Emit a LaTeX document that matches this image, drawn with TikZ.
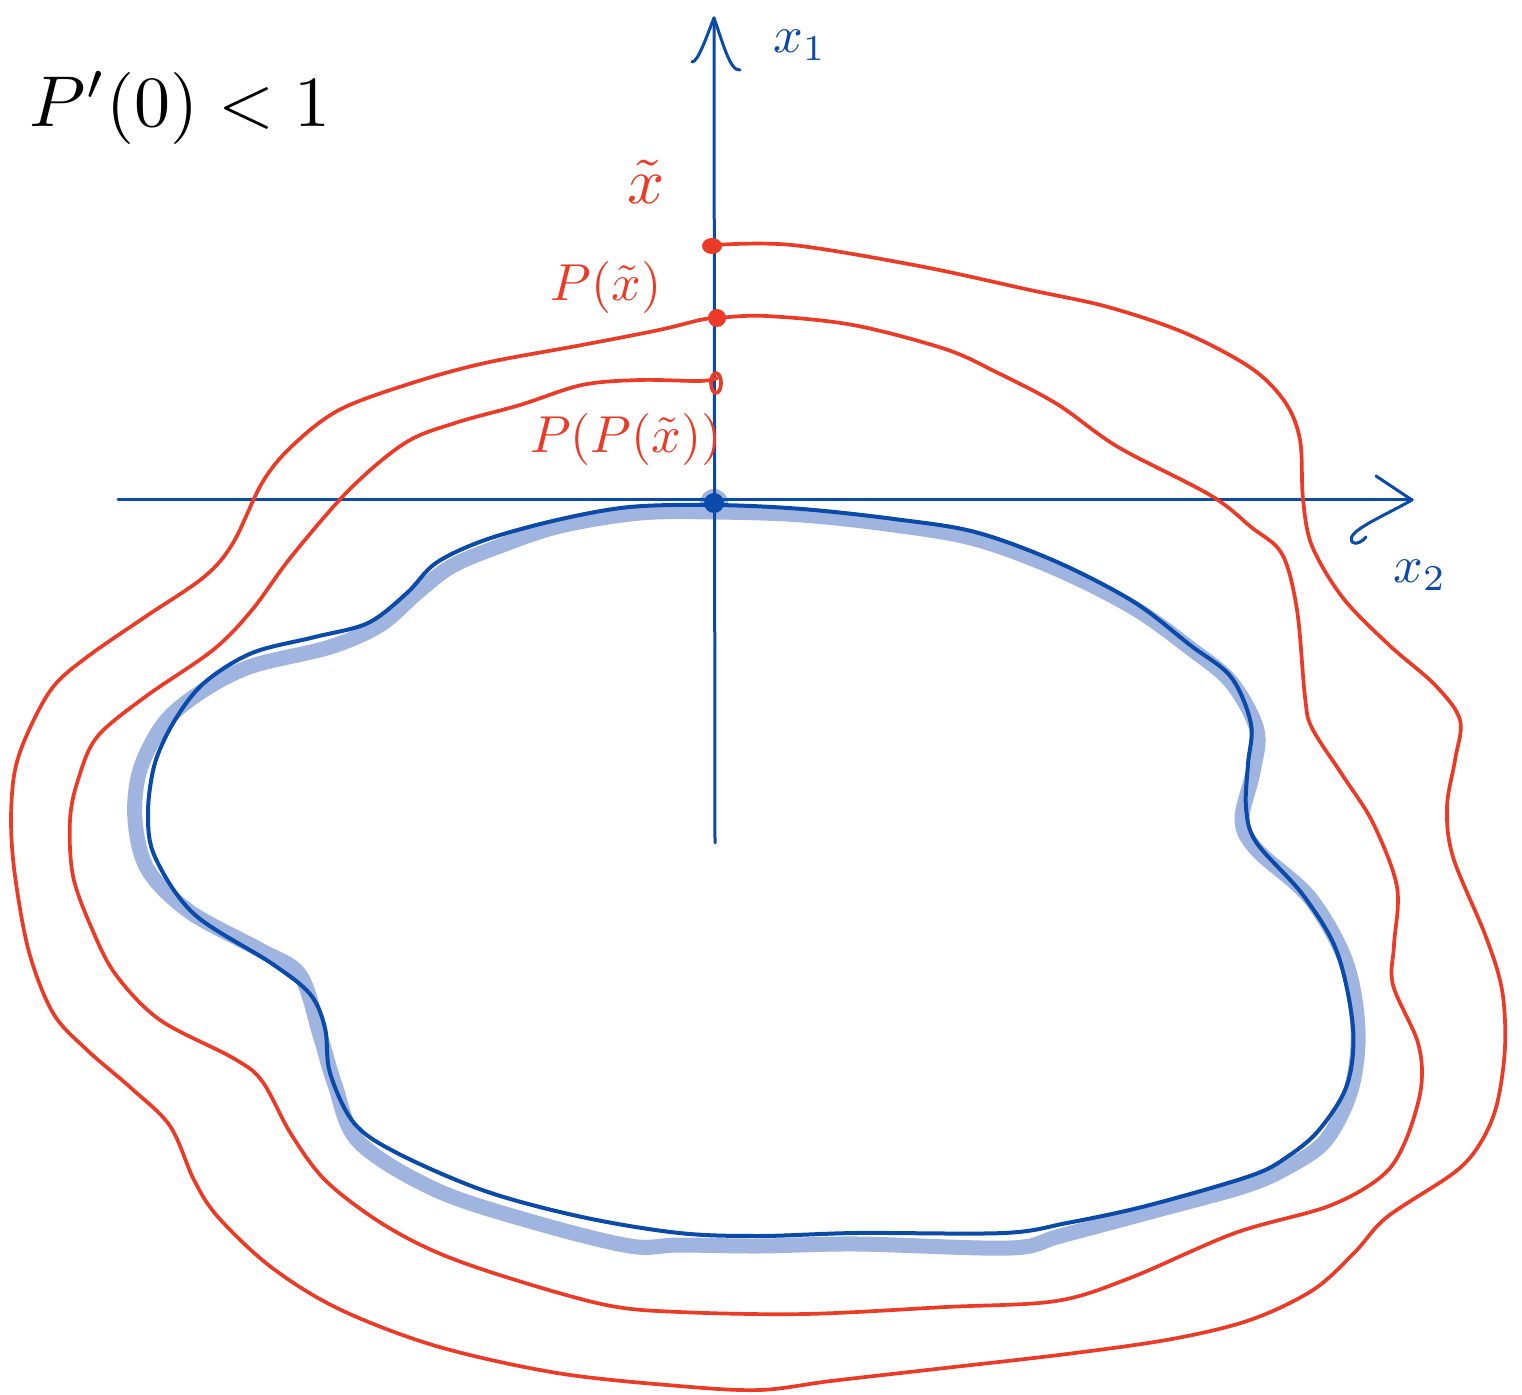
\documentclass[tikz,border=0pt]{standalone}
\definecolor{penred}{RGB}{235,58,38}
\definecolor{penblue}{RGB}{10,74,168}
\definecolor{halo}{RGB}{160,180,224}
\tikzset{
  redline/.style={draw=penred, line width=1.85pt, line cap=round, line join=round},
  blueline/.style={draw=penblue, line width=2pt, line cap=round, line join=round},
  axisline/.style={draw=penblue, line width=1.5pt, line cap=round, line join=round},
  haloline/.style={draw=halo, line width=7.5pt, line cap=round, line join=round},
  redlabel/.style={text=penred, scale=2.6, inner sep=0pt},
  bluelabel/.style={text=penblue, scale=2.6, inner sep=0pt}
}
\begin{document}
\begin{tikzpicture}[x=0.5pt,y=-0.5pt]
\useasboundingbox (0,0) rectangle (1522,1395);
\fill[white] (0,0) rectangle (1522,1395);

% coordinates
\coordinate (O) at (714,503);
\coordinate (xleft) at (118,500);
\coordinate (xright) at (1412,500);
\coordinate (ybot) at (715,843);
\coordinate (ytop) at (714,18);
\coordinate (xt) at (712,246);
\coordinate (px) at (717,318);
\coordinate (ppx) at (716,383);

% halo of invariant curve
\draw[haloline] plot[smooth cycle, tension=0.55] coordinates {
(715,512) (802,515) (894,525) (975,539) (1057,569) (1134,608) (1190,648) (1231,682)
(1257,730) (1253,772) (1242,820) (1257,850) (1310,898) (1346,962) (1358,1030)
(1351,1090) (1326,1140) (1290,1166) (1245,1186) (1150,1212) (1060,1236) (1010,1248)
(857,1244) (760,1246) (679,1245) (630,1246) (533,1222) (436,1190) (359,1142)
(335,1085) (320,1035) (300,975) (260,950) (190,912) (148,870) (135,820) (140,770)
(165,722) (204,690) (252,666) (330,647) (380,625) (418,592) (452,566) (500,546)
(560,526) (640,513)};
\fill[halo] (O) circle[radius=14];

% invariant curve
\draw[blueline] plot[smooth cycle, tension=0.55] coordinates {
(715,505) (802,509) (894,519) (975,532) (1057,562) (1134,602) (1190,645) (1231,677)
(1251,724) (1248,764) (1246,807) (1256,842) (1303,895) (1337,952) (1353,1028)
(1347,1085) (1319,1130) (1287,1157) (1250,1176) (1146,1206) (1067,1223) (1004,1233)
(857,1233) (760,1236) (679,1233) (582,1217) (485,1191) (397,1153) (354,1123)
(330,1073) (325,1028) (310,994) (271,963) (194,914) (155,857) (148,813) (155,763)
(175,720) (204,683) (252,653) (315,637) (368,623) (407,593) (436,563) (485,540)
(557,520) (630,507)};

% axes
\draw[axisline] (xleft) -- (xright);
\draw[axisline] (ybot) -- (ytop);
\draw[axisline] (xright) -- (1376,476);
\draw[axisline] (xright) .. controls (1380,518) and (1345,532) .. (1352,542) .. controls (1356,546) and (1364,540) .. (1366,537);
\draw[axisline] (ytop) .. controls (706,38) and (698,62) .. (692,62);
\draw[axisline] (ytop) .. controls (722,40) and (730,72) .. (740,70);

% origin dot
\fill[penblue] (O) circle[radius=10];

% spiral trajectory
\draw[redline] plot[smooth, tension=0.55] coordinates {
(715,245) (792,245) (919,266) (1030,290) (1108,307) (1185,333) (1251,368) (1285,402)
(1300,440) (1303,499) (1312,546) (1343,598) (1389,645) (1435,685) (1460,720)
(1455,760) (1447,807) (1453,857) (1486,937) (1502,990) (1505,1047) (1497,1104)
(1481,1142) (1455,1172) (1387,1217) (1355,1252) (1313,1290) (1250,1320) (1172,1339)
(1067,1354) (936,1369) (831,1381) (760,1390) (679,1386) (557,1373) (436,1346)
(339,1309) (271,1267) (218,1217) (194,1180) (170,1126) (131,1088) (87,1050)
(53,1013) (29,952) (15,876) (11,820) (15,770) (29,730) (53,687) (87,657) (145,617)
(204,577) (233,543) (262,483) (291,447) (339,410) (412,383) (485,363) (582,345)
(659,330) (700,320) (717,318)
(766,316) (853,325) (945,349) (996,372) (1057,404) (1118,447) (1210,495) (1251,527)
(1282,554) (1297,610) (1305,697) (1312,728) (1343,776) (1373,823) (1397,887)
(1394,945) (1393,985) (1418,1043) (1421,1088) (1405,1142) (1382,1176) (1329,1206)
(1235,1233) (1130,1278) (1056,1301) (946,1307) (805,1314) (679,1312) (606,1305)
(509,1278) (436,1252) (378,1221) (325,1180) (291,1134) (262,1081) (233,1058)
(160,1020) (116,975) (92,929) (73,876) (70,820) (78,780) (97,737) (145,697)
(213,650) (252,610) (291,557) (349,490) (405,443) (455,423) (520,405) (582,385)
(640,380) (700,381) (717,378)};

% red points
\fill[penred] (xt) ellipse[x radius=10, y radius=8];
\fill[penred] (px) ellipse[x radius=9, y radius=9];
\draw[redline] (ppx) ellipse[x radius=5, y radius=10];

% labels
\node[scale=3.6, inner sep=0pt] (cond) at (180,108) {$P'(0)<1$};
\node[redlabel, scale=1.25] (lxt) at (646,182) {$\tilde{x}$};
\node[redlabel] (lpx) at (606,288) {$P(\tilde{x})$};
\node[redlabel] (lppx) at (626,440) {$P(P(\tilde{x}))$};
\node[bluelabel] (lx1) at (800,45) {$x_1$};
\node[bluelabel] (lx2) at (1420,575) {$x_2$};
\end{tikzpicture}
\end{document}
